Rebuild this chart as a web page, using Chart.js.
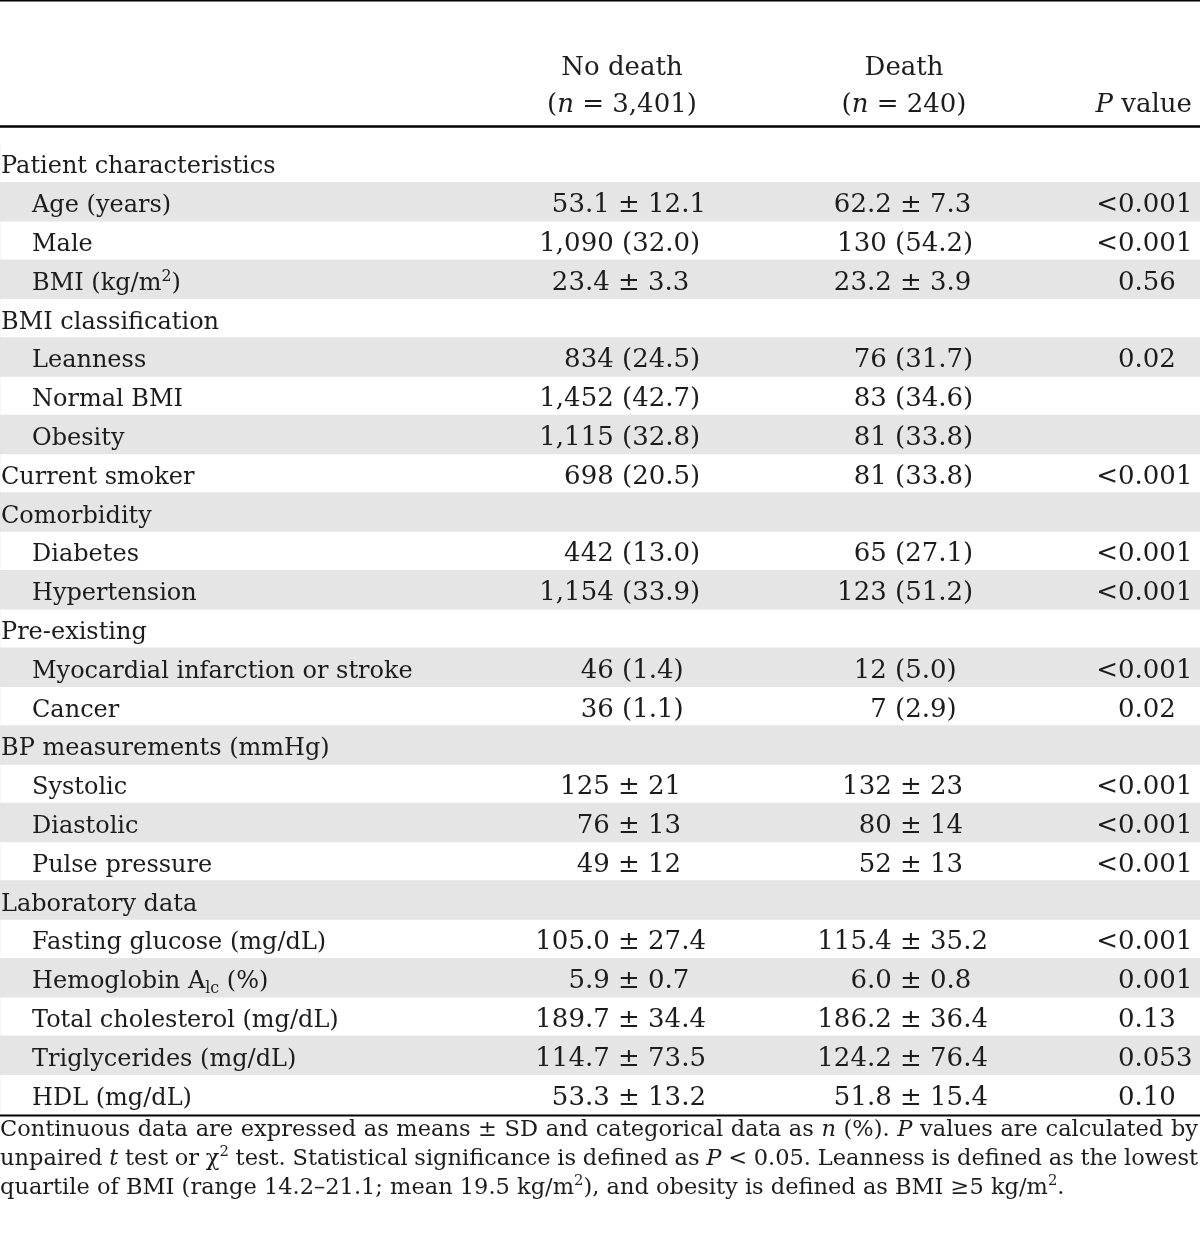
<!DOCTYPE html>
<html>
<head>
<meta charset="utf-8">
<script src="https://cdn.jsdelivr.net/npm/chart.js@4.4.0/dist/chart.umd.min.js"></script>
<style>
  html, body { margin: 0; padding: 0; background: #fff; }
  #wrap { width: 1200px; height: 1235px; }
</style>
</head>
<body>
<div id="wrap"><canvas id="myChart" width="1200" height="1235"></canvas></div>
<script>
// table rows (markup: *italic*, ^{sup}, _{sub})
const rowLabels = [
    "Patient characteristics", "Age (years)", "Male", "BMI (kg/m^{2})",
    "BMI classification", "Leanness", "Normal BMI", "Obesity",
    "Current smoker", "Comorbidity", "Diabetes", "Hypertension",
    "Pre-existing", "Myocardial infarction or stroke", "Cancer",
    "BP measurements (mmHg)", "Systolic", "Diastolic", "Pulse pressure",
    "Laboratory data", "Fasting glucose (mg/dL)", "Hemoglobin A_{lc} (%)",
    "Total cholesterol (mg/dL)", "Triglycerides (mg/dL)", "HDL (mg/dL)"
];
const indented = [0,1,1,1, 0,1,1,1, 0,0,1,1, 0,1,1, 0,1,1,1, 0,1,1,1,1,1];
const shaded   = [0,1,0,1, 0,1,0,1, 0,1,0,1, 0,1,0, 1,0,1,0, 1,0,1,0,1,0];

const noDeath = [
    "", "53.1 ± 12.1", "1,090 (32.0)", "23.4 ± 3.3",
    "", "834 (24.5)", "1,452 (42.7)", "1,115 (32.8)",
    "698 (20.5)", "", "442 (13.0)", "1,154 (33.9)",
    "", "46 (1.4)", "36 (1.1)",
    "", "125 ± 21", "76 ± 13", "49 ± 12",
    "", "105.0 ± 27.4", "5.9 ± 0.7", "189.7 ± 34.4", "114.7 ± 73.5", "53.3 ± 13.2"
];
const death = [
    "", "62.2 ± 7.3", "130 (54.2)", "23.2 ± 3.9",
    "", "76 (31.7)", "83 (34.6)", "81 (33.8)",
    "81 (33.8)", "", "65 (27.1)", "123 (51.2)",
    "", "12 (5.0)", "7 (2.9)",
    "", "132 ± 23", "80 ± 14", "52 ± 13",
    "", "115.4 ± 35.2", "6.0 ± 0.8", "186.2 ± 36.4", "124.2 ± 76.4", "51.8 ± 15.4"
];
const pValues = [
    "", "<0.001", "<0.001", "0.56",
    "", "0.02", "", "",
    "<0.001", "", "<0.001", "<0.001",
    "", "<0.001", "0.02",
    "", "<0.001", "<0.001", "<0.001",
    "", "<0.001", "0.001", "0.13", "0.053", "0.10"
];

const groupNames = ["No death", "Death"];
const groupSizes = ["3,401", "240"];

const footnote = [
    "Continuous data are expressed as means ± SD and categorical data as *n* (%). *P* values are calculated by",
    "unpaired *t* test or χ^{2} test. Statistical significance is defined as *P* < 0.05. Leanness is defined as the lowest",
    "quartile of BMI (range 14.2–21.1; mean 19.5 kg/m^{2}), and obesity is defined as BMI ≥5 kg/m^{2}."
];

const FAMILY = '"DejaVu Serif", "Liberation Serif", serif';
const INK = "#1c1c1c";

function parseRich(str) {
    const segs = [];
    const re = /\*([^*]+)\*|\^\{([^}]*)\}|_\{([^}]*)\}|([^*^_]+)/g;
    let m;
    while ((m = re.exec(str))) {
        if (m[1]) segs.push({ t: m[1], s: "i" });
        else if (m[2]) segs.push({ t: m[2], s: "sup" });
        else if (m[3]) segs.push({ t: m[3], s: "sub" });
        else segs.push({ t: m[4], s: "" });
    }
    return segs;
}

function setFont(ctx, s, size) {
    const sz = (s === "sup" || s === "sub") ? size * 0.66 : size;
    ctx.font = (s === "i" ? "italic " : "") + sz + "px " + FAMILY;
}

function measureRich(ctx, segs, size) {
    let w = 0;
    segs.forEach((sg) => { setFont(ctx, sg.s, size); w += ctx.measureText(sg.t).width; });
    return w;
}

function drawRich(ctx, segs, x, y, size, align) {
    const w = measureRich(ctx, segs, size);
    if (align === "right") x -= w;
    else if (align === "center") x -= w / 2;
    ctx.textAlign = "left";
    segs.forEach((sg) => {
        setFont(ctx, sg.s, size);
        let dy = 0;
        if (sg.s === "sup") dy = -size * 0.38;
        if (sg.s === "sub") dy = size * 0.2;
        ctx.fillText(sg.t, x, y + dy);
        x += ctx.measureText(sg.t).width;
    });
    return w;
}

// splits "53.1 ± 12.1" -> "53.1" | "± 12.1" and aligns on the second part
function drawAligned(ctx, text, anchor, y, size) {
    if (!text) return;
    ctx.font = size + "px " + FAMILY;
    const sp = ctx.measureText(" ").width;
    const k = text.indexOf(" ");
    const a = text.slice(0, k), b = text.slice(k + 1);
    ctx.textAlign = "right";
    ctx.fillText(a, anchor - sp, y);
    ctx.textAlign = "left";
    ctx.fillText(b, anchor, y);
}

function lineWords(ctx, str, size) {
    const segs = parseRich(str);
    const words = [[]];
    segs.forEach((sg) => {
        sg.t.split(" ").forEach((p, j) => {
            if (j > 0) words.push([]);
            if (p) words[words.length - 1].push({ t: p, s: sg.s });
        });
    });
    const list = words.filter((w) => w.length);
    const widths = list.map((w) => measureRich(ctx, w, size));
    return { list, widths, total: widths.reduce((a, b) => a + b, 0) };
}

function drawJustified(ctx, str, x0, width, y, size, justify) {
    const { list, widths, total } = lineWords(ctx, str, size);
    ctx.font = size + "px " + FAMILY;
    let gap = ctx.measureText(" ").width;
    if (justify) gap = (width - total) / (list.length - 1);
    let x = x0;
    list.forEach((w, i) => { drawRich(ctx, w, x, y, size, "left"); x += widths[i] + gap; });
}

function rule(ctx, y, lw) {
    ctx.beginPath();
    ctx.lineWidth = lw;
    ctx.strokeStyle = "#000";
    ctx.moveTo(0, y);
    ctx.lineTo(1200, y);
    ctx.stroke();
}

const tablePlugin = {
    id: "tableText",
    afterDatasetsDraw(chart) {
        const ctx = chart.ctx;
        const yScale = chart.scales.y;
        const area = chart.chartArea;
        ctx.save();
        ctx.fillStyle = INK;
        ctx.textBaseline = "alphabetic";

        rule(ctx, 0.75, 1.5);
        rule(ctx, 126.5, 2.6);
        rule(ctx, area.bottom + 2, 2);

        // header
        const colCenters = [622, 904];
        groupNames.forEach((g, i) => {
            drawRich(ctx, parseRich(g), colCenters[i], 75, 26, "center");
            drawRich(ctx, parseRich("(*n* = " + groupSizes[i] + ")"), colCenters[i], 112, 26, "center");
        });
        drawRich(ctx, parseRich("*P* value"), 1192, 112, 26, "right");

        rowLabels.forEach((lab, i) => {
            const y = yScale.getPixelForValue(i) + 10.5;
            drawRich(ctx, parseRich(lab), indented[i] ? 32 : 1, y, 24, "left");
            const nd = noDeath[i], d = death[i];
            if (nd) drawAligned(ctx, nd, nd.includes("±") ? 618 : 622, y, 26);
            if (d) drawAligned(ctx, d, d.includes("±") ? 900 : 895, y, 26);
            const p = pValues[i];
            if (p) {
                ctx.font = "26px " + FAMILY;
                if (p[0] === "<") {
                    ctx.textAlign = "right";
                    ctx.fillText("<", 1118, y);
                    ctx.textAlign = "left";
                    ctx.fillText(p.slice(1), 1118, y);
                } else {
                    ctx.textAlign = "left";
                    ctx.fillText(p, 1118, y);
                }
            }
        });

        // footnote: largest size that still fits the justified lines
        let fs = 22.5;
        while (fs > 16 && footnote.some((l) => {
            const lw = lineWords(ctx, l, fs);
            return lw.total + (lw.list.length - 1) * fs * 0.2 > 1198;
        })) fs -= 0.25;
        footnote.forEach((line, i) => {
            drawJustified(ctx, line, 0, 1198, 1136 + i * 29, fs, i < footnote.length - 1);
        });
        ctx.restore();
    }
};

const config = {
    type: "bar",
    data: {
        labels: rowLabels,
        datasets: [{
            data: shaded,
            backgroundColor: "#e5e5e5",
            borderWidth: 0,
            barPercentage: 1,
            categoryPercentage: 1
        }]
    },
    options: {
        indexAxis: "y",
        responsive: false,
        animation: false,
        devicePixelRatio: 1,
        layout: { padding: { top: 143.5, bottom: 121.5, left: 0, right: 0 } },
        scales: {
            x: { display: false, min: 0, max: 1 },
            y: { display: false }
        },
        plugins: {
            legend: { display: false },
            tooltip: { enabled: false }
        }
    },
    plugins: [tablePlugin]
};

new Chart(document.getElementById("myChart"), config);
</script>
</body>
</html>
